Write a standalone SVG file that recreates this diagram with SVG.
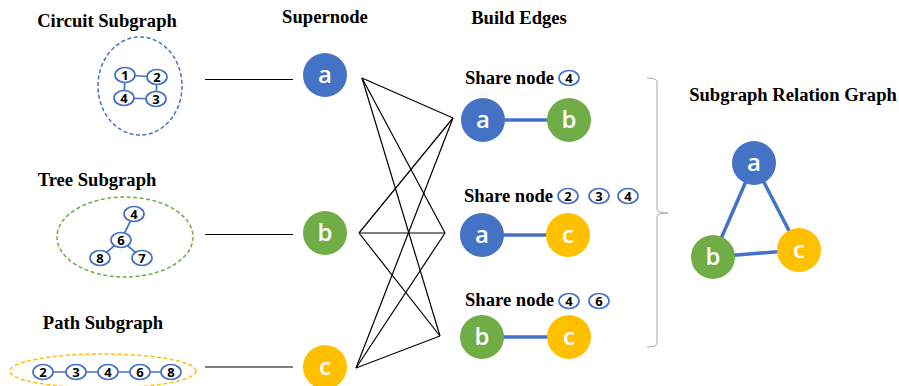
<svg xmlns="http://www.w3.org/2000/svg" width="899" height="386" viewBox="0 0 899 386">
  <style>
    .title { font-family: "Liberation Serif", "Times New Roman", serif; font-weight: bold; font-size: 18.6px; fill: #000; }
    .mini { fill: #fff; stroke: #4472C4; stroke-width: 1.7; }
    .mini-t { font-family: "Open Sans", "Liberation Sans", sans-serif; font-weight: bold; font-size: 13px; fill: #000; text-anchor: middle; dominant-baseline: central; }
    .mini-e { stroke: #4472C4; stroke-width: 1.7; }
    .sn-t { font-family: "Open Sans", "Liberation Sans", sans-serif; font-weight: 600; font-size: 24px; fill: #fff; text-anchor: middle; dominant-baseline: central; }
    .blue { fill: #4472C4; }
    .green { fill: #70AD47; }
    .gold { fill: #FFC000; }
    .wire { stroke: #000; stroke-width: 1.2; fill: none; }
    .rel { stroke: #4472C4; stroke-width: 3.5; fill: none; }
    .hull { fill: none; stroke-width: 1.5; stroke-dasharray: 4 2.5; }
  </style>

  <!-- column headings -->
  <text class="title" x="107" y="27" text-anchor="middle">Circuit Subgraph</text>
  <text class="title" x="97" y="186" text-anchor="middle">Tree Subgraph</text>
  <text class="title" x="103" y="329" text-anchor="middle">Path Subgraph</text>
  <text class="title" x="325" y="23" text-anchor="middle">Supernode</text>
  <text class="title" x="519" y="24" text-anchor="middle">Build Edges</text>
  <text class="title" x="793" y="101" text-anchor="middle">Subgraph Relation Graph</text>

  <!-- circuit subgraph -->
  <g id="circuit">
    <ellipse class="hull" cx="140" cy="86" rx="42" ry="49" stroke="#4472C4"/>
    <line class="mini-e" x1="125" y1="75" x2="157" y2="77"/>
    <line class="mini-e" x1="157" y1="77" x2="156" y2="99"/>
    <line class="mini-e" x1="156" y1="99" x2="124" y2="98"/>
    <line class="mini-e" x1="124" y1="98" x2="125" y2="75"/>
    <ellipse class="mini" cx="125" cy="75" rx="10" ry="7.5"/><text class="mini-t" x="125" y="75">1</text>
    <ellipse class="mini" cx="157" cy="77" rx="10" ry="7.5"/><text class="mini-t" x="157" y="77">2</text>
    <ellipse class="mini" cx="156" cy="99" rx="10" ry="7.5"/><text class="mini-t" x="156" y="99">3</text>
    <ellipse class="mini" cx="124" cy="98" rx="10" ry="7.5"/><text class="mini-t" x="124" y="98">4</text>
  </g>

  <!-- tree subgraph -->
  <g id="tree">
    <ellipse class="hull" cx="125" cy="237" rx="68" ry="40" stroke="#70AD47"/>
    <line class="mini-e" x1="134" y1="214" x2="121" y2="240"/>
    <line class="mini-e" x1="121" y1="240" x2="100" y2="258"/>
    <line class="mini-e" x1="121" y1="240" x2="142" y2="258"/>
    <ellipse class="mini" cx="134" cy="214" rx="10" ry="7.5"/><text class="mini-t" x="134" y="214">4</text>
    <ellipse class="mini" cx="121" cy="240" rx="10" ry="7.5"/><text class="mini-t" x="121" y="240">6</text>
    <ellipse class="mini" cx="100" cy="258" rx="10" ry="7.5"/><text class="mini-t" x="100" y="258">8</text>
    <ellipse class="mini" cx="142" cy="258" rx="10" ry="7.5"/><text class="mini-t" x="142" y="258">7</text>
  </g>

  <!-- path subgraph -->
  <g id="path">
    <ellipse class="hull" cx="103" cy="371" rx="93" ry="17" stroke="#FFC000"/>
    <line class="mini-e" x1="43" y1="372" x2="171" y2="372"/>
    <ellipse class="mini" cx="43" cy="372" rx="10" ry="7.5"/><text class="mini-t" x="43" y="372">2</text>
    <ellipse class="mini" cx="76" cy="372" rx="10" ry="7.5"/><text class="mini-t" x="76" y="372">3</text>
    <ellipse class="mini" cx="108" cy="372" rx="10" ry="7.5"/><text class="mini-t" x="108" y="372">4</text>
    <ellipse class="mini" cx="140" cy="372" rx="10" ry="7.5"/><text class="mini-t" x="140" y="372">6</text>
    <ellipse class="mini" cx="171" cy="372" rx="10" ry="7.5"/><text class="mini-t" x="171" y="372">8</text>
  </g>

  <!-- supernodes -->
  <g id="super-a"><circle class="blue" cx="325" cy="75" r="22"/><text class="sn-t" x="325" y="73">a</text></g>
  <g id="super-b"><circle class="green" cx="325" cy="233" r="22"/><text class="sn-t" x="325" y="231">b</text></g>
  <g id="super-c"><circle class="gold" cx="325" cy="367" r="22"/><text class="sn-t" x="325" y="365">c</text></g>

  <!-- connectors -->
  <g id="connectors">
    <line class="wire" x1="205" y1="79.5" x2="293" y2="79.5"/>
    <line class="wire" x1="205" y1="234.5" x2="293" y2="234.5"/>
    <line class="wire" x1="205" y1="367" x2="293" y2="367" stroke-width="2.2"/>
    <line class="wire" x1="362" y1="78" x2="453" y2="118"/>
    <line class="wire" x1="362" y1="78" x2="445" y2="233"/>
    <line class="wire" x1="362" y1="78" x2="440" y2="336"/>
    <line class="wire" x1="359" y1="233" x2="453" y2="118"/>
    <line class="wire" x1="359" y1="233" x2="445" y2="233" stroke-width="2"/>
    <line class="wire" x1="359" y1="233" x2="440" y2="336"/>
    <line class="wire" x1="356" y1="368" x2="453" y2="118"/>
    <line class="wire" x1="356" y1="368" x2="445" y2="233"/>
    <line class="wire" x1="356" y1="368" x2="440" y2="336"/>
    <!-- brace -->
    <path d="M647 78 Q657 78 657 82 L657 209 Q657 213 668 213 Q657 213 657 217 L657 343 Q657 347 647 347" fill="none" stroke="#A6A6A6" stroke-width="1"/>
  </g>

  <!-- edge a-b -->
  <g id="edge-ab">
    <text class="title" x="465" y="84">Share node</text>
    <ellipse class="mini" cx="569" cy="78" rx="10" ry="7.5"/><text class="mini-t" x="569" y="78">4</text>
    <line class="rel" x1="483" y1="120" x2="569" y2="120"/>
    <circle class="blue" cx="483" cy="120" r="22"/><text class="sn-t" x="483" y="118">a</text>
    <circle class="green" cx="569" cy="120" r="22"/><text class="sn-t" x="569" y="118">b</text>
  </g>

  <!-- edge a-c -->
  <g id="edge-ac">
    <text class="title" x="464" y="202">Share node</text>
    <ellipse class="mini" cx="568" cy="196" rx="10" ry="7.5"/><text class="mini-t" x="568" y="196">2</text>
    <ellipse class="mini" cx="599" cy="196" rx="10" ry="7.5"/><text class="mini-t" x="599" y="196">3</text>
    <ellipse class="mini" cx="628" cy="196" rx="10" ry="7.5"/><text class="mini-t" x="628" y="196">4</text>
    <line class="rel" x1="482" y1="235" x2="568" y2="235"/>
    <circle class="blue" cx="482" cy="235" r="22"/><text class="sn-t" x="482" y="233">a</text>
    <circle class="gold" cx="568" cy="235" r="22"/><text class="sn-t" x="568" y="233">c</text>
  </g>

  <!-- edge b-c -->
  <g id="edge-bc">
    <text class="title" x="465" y="306">Share node</text>
    <ellipse class="mini" cx="569" cy="301" rx="10" ry="7.5"/><text class="mini-t" x="569" y="301">4</text>
    <ellipse class="mini" cx="599" cy="301" rx="10" ry="7.5"/><text class="mini-t" x="599" y="301">6</text>
    <line class="rel" x1="482" y1="337" x2="569" y2="337"/>
    <circle class="green" cx="482" cy="337" r="22"/><text class="sn-t" x="482" y="335">b</text>
    <circle class="gold" cx="569" cy="337" r="22"/><text class="sn-t" x="569" y="335">c</text>
  </g>

  <!-- relation graph -->
  <g id="relation">
    <line class="rel" x1="754" y1="163" x2="713" y2="257" stroke-width="3"/>
    <line class="rel" x1="754" y1="163" x2="799" y2="250" stroke-width="3"/>
    <line class="rel" x1="713" y1="257" x2="799" y2="250" stroke-width="3"/>
    <g id="rel-a"><circle class="blue" cx="754" cy="163" r="22"/><text class="sn-t" x="754" y="161">a</text></g>
    <g id="rel-b"><circle class="green" cx="713" cy="257" r="22"/><text class="sn-t" x="713" y="255">b</text></g>
    <g id="rel-c"><circle class="gold" cx="799" cy="250" r="22"/><text class="sn-t" x="799" y="248">c</text></g>
  </g>
</svg>
